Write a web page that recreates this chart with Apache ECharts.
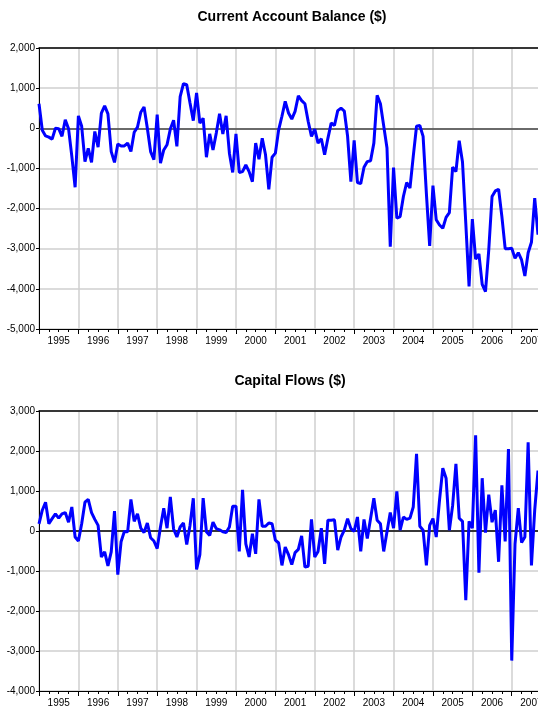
<!DOCTYPE html>
<html><head><meta charset="utf-8">
<script src="https://cdn.jsdelivr.net/npm/echarts/dist/echarts.min.js"></script>
<style>html,body{margin:0;padding:0;background:#fff}#c{width:538px;height:711px}</style>
</head><body><div id="c"></div>
<script>
// ---- data ----
const startYear = 1995;
const monthCount = 153; // Jan 1995 .. Sep 2007
const yearLabels = ['1995','1996','1997','1998','1999','2000','2001','2002','2003','2004','2005','2006','2007'];
const currentAccount = [
 610,-50,-190,-220,-270,0,-10,-200,210,-10,-700,-1470,
 310,50,-830,-500,-850,-80,-470,380,560,360,-580,-850,
 -390,-440,-440,-370,-580,-100,30,400,530,0,-580,-780,
 340,-870,-540,-410,-20,200,-450,790,1110,1085,630,190,
 880,130,250,-720,-140,-540,-120,360,-140,310,-620,-1100,
 -140,-1100,-1080,-910,-1080,-1330,-370,-770,-250,-660,-1520,-720,
 -620,-40,300,670,380,230,420,810,690,610,170,-200,
 -20,-370,-260,-660,-250,130,70,440,500,430,-200,-1330,
 -300,-1350,-1380,-970,-830,-810,-370,820,610,60,-490,-2950,
 -980,-2240,-2200,-1700,-1350,-1490,-700,50,70,-200,-1620,-2930,
 -1430,-2280,-2410,-2490,-2220,-2100,-970,-1080,-310,-840,-2360,-3940,
 -2260,-3260,-3130,-3890,-4070,-3030,-1700,-1560,-1520,-2200,-3000,-3000,
 -2990,-3240,-3100,-3280,-3680,-3100,-2840,-1740,-2650
];
const capitalFlows = [
 180,520,720,180,310,430,320,430,460,220,600,-150,
 -250,180,720,790,460,290,140,-650,-520,-870,-520,500,
 -1090,-270,-10,-20,790,240,430,70,-40,200,-170,-250,
 -440,100,570,70,850,50,-150,100,200,-340,140,820,
 -960,-590,820,-20,-110,220,60,30,-20,-40,100,620,
 620,-510,1030,-320,-650,-70,-570,790,120,120,200,180,
 -230,-300,-860,-400,-590,-840,-540,-460,-120,-900,-880,290,
 -650,-510,70,-820,270,270,280,-480,-150,20,310,60,
 -10,350,-510,290,-190,310,820,270,180,-510,-20,460,
 70,990,20,350,290,320,600,1930,120,20,-860,140,
 310,-150,770,1570,1320,20,640,1680,320,240,-1730,240,
 70,2390,-1040,1320,-40,910,220,520,-770,1140,-260,2050,
 -3240,-320,570,-290,-150,2220,-860,520,1510
];
const caAxis = {min:-5000, max:2000, step:1000};
const cfAxis = {min:-4000, max:3000, step:1000};
const titles = ['Current Account Balance ($)', 'Capital Flows ($)'];

// ---- build ----
const months = [];
for (let i = 0; i < monthCount; i++) {
  const y = startYear + Math.floor(i / 12), m = i % 12 + 1;
  months.push(y + '-' + (m < 10 ? '0' + m : m));
}
const FONT = "'Liberation Sans',Arial,sans-serif";
const fmt = v => v.toLocaleString('en-US');

const panels = [
  {top:48, height:281, ax:caAxis, data:currentAccount, zeroColor:'#444'},
  {top:411, height:280, ax:cfAxis, data:capitalFlows, zeroColor:'#000'}
];
const grid=[], xAxis=[], yAxis=[], series=[];
panels.forEach((p, k) => {
  const gMain = grid.length;
  grid.push({left:39, top:p.top, width:499, height:p.height, containLabel:false, outerBoundsMode:'none'});
  grid.push({left:39, top:p.top, width:499, height:p.height, containLabel:false, outerBoundsMode:'none'});
  const xMain = xAxis.length;
  xAxis.push({
    type:'category', gridIndex:gMain, data:months, boundaryGap:false, position:'bottom',
    axisLine:{show:true, onZero:false, lineStyle:{color:'#000', width:1}},
    axisTick:{show:true, length:5, interval:(i)=> i % 12 === 0, lineStyle:{color:'#000', width:1}},
    axisLabel:{show:true, interval:(i)=> i % 12 === 6, formatter:(v)=> yearLabels[parseInt(v.slice(0,4)) - startYear],
      fontSize:10, color:'#000', margin:7, fontFamily:FONT, hideOverlap:false},
    splitLine:{show:true, interval:(i)=> i % 12 === 0, lineStyle:{color:'#cfcfcf', width:1.5}}
  });
  xAxis.push({
    type:'category', gridIndex:gMain, data:months, boundaryGap:false, position:'top',
    axisLine:{show:true, onZero:false, lineStyle:{color:'#000', width:1.5}},
    axisTick:{show:false}, axisLabel:{show:false}, splitLine:{show:false}
  });
  xAxis.push({
    type:'category', gridIndex:gMain+1, data:months, boundaryGap:false, position:'bottom',
    axisLine:{show:false, onZero:false},
    axisTick:{show:true, length:3, interval:(i)=> i % 3 === 0, lineStyle:{color:'#000', width:1}},
    axisLabel:{show:false}, splitLine:{show:false}
  });
  const yMain = yAxis.length;
  yAxis.push({
    type:'value', gridIndex:gMain, min:p.ax.min, max:p.ax.max, interval:p.ax.step,
    axisLine:{show:true, lineStyle:{color:'#000', width:1}},
    axisTick:{show:true, length:3, lineStyle:{color:'#000'}},
    axisLabel:{formatter:fmt, fontSize:10, color:'#000', margin:4, fontFamily:FONT},
    splitLine:{show:true, lineStyle:{color:'#cfcfcf', width:1.5}}
  });
  yAxis.push({type:'value', gridIndex:gMain+1, min:p.ax.min, max:p.ax.max, show:false});
  series.push({
    type:'line', xAxisIndex:xMain, yAxisIndex:yMain, data:p.data, showSymbol:false, symbol:'none',
    lineStyle:{color:'#0000ff', width:3}, itemStyle:{color:'#0000ff'}, animation:false, z:3,
    markLine:{silent:true, symbol:'none', z:2, label:{show:false}, animation:false,
      lineStyle:{color:p.zeroColor, width:1.5, type:'solid'}, data:[{yAxis:0}]}
  });
});

const chart = echarts.init(document.getElementById('c'), null, {renderer:'canvas'});
chart.setOption({
  animation:false,
  backgroundColor:'#fff',
  grid, xAxis, yAxis, series,
  graphic:[
    {type:'text', x:292, y:17, style:{text:titles[0], fill:'#000', font:"bold 14px " + FONT, align:'center', verticalAlign:'middle'}},
    {type:'text', x:290, y:381, style:{text:titles[1], fill:'#000', font:"bold 14px " + FONT, align:'center', verticalAlign:'middle'}}
  ]
});
</script></body></html>
